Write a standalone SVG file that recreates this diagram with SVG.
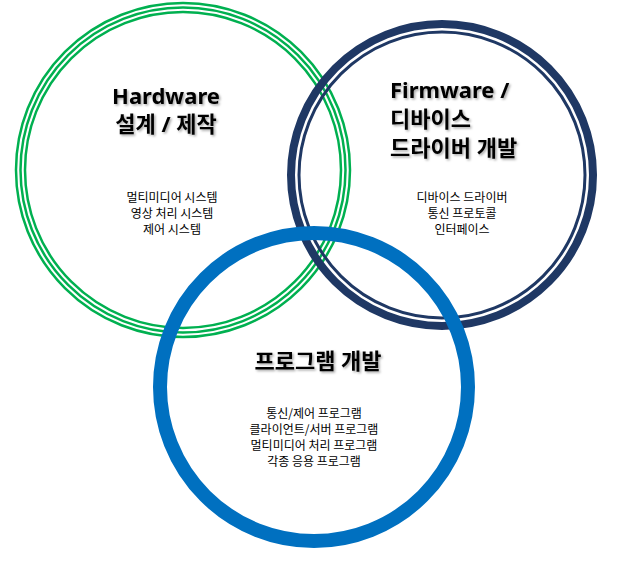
<svg xmlns="http://www.w3.org/2000/svg" width="619" height="566" viewBox="0 0 619 566">
<defs>
<filter id="sh" x="-10%" y="-10%" width="130%" height="140%"><feDropShadow dx="1.5" dy="1.5" stdDeviation="1" flood-color="#000" flood-opacity="0.35"/></filter>
<style>
.t{font-family:"Noto Sans","Noto Sans CJK KR",sans-serif;font-weight:bold;font-size:22px;fill:#000;text-anchor:middle;filter:url(#sh)}
.s{font-family:"Noto Sans CJK KR",sans-serif;font-size:12px;fill:#000;text-anchor:middle}
.g{fill:none;stroke:#00b050;stroke-width:2.5}
</style>
</defs>
<rect width="619" height="566" fill="#fff"/>
<g id="hardware">
<circle class="g" cx="183" cy="170" r="167"/>
<circle class="g" cx="183" cy="170" r="162.5"/>
<circle class="g" cx="183" cy="170" r="158"/>
<text class="t" x="166" y="104">Hardware</text>
<text class="t" x="166" y="132">설계 / 제작</text>
<text class="s" x="172" y="202">멀티미디어 시스템</text>
<text class="s" x="172" y="218">영상 처리 시스템</text>
<text class="s" x="172" y="234">제어 시스템</text>
</g>
<g id="firmware">
<circle cx="442" cy="175" r="151" fill="none" stroke="#1f3864" stroke-width="8"/>
<circle cx="442" cy="175" r="143" fill="none" stroke="#1f3864" stroke-width="3"/>
<text class="t" x="390" y="98" style="text-anchor:start">Firmware /</text>
<text class="t" x="390" y="127" style="text-anchor:start">디바이스</text>
<text class="t" x="390" y="156" style="text-anchor:start">드라이버 개발</text>
<text class="s" x="462" y="202">디바이스 드라이버</text>
<text class="s" x="462" y="218">통신 프로토콜</text>
<text class="s" x="462" y="234">인터페이스</text>
</g>
<g id="program">
<circle cx="314" cy="387" r="154" fill="none" stroke="#0070c0" stroke-width="14"/>
<text class="t" x="318" y="369">프로그램 개발</text>
<text class="s" x="314" y="418">통신/제어 프로그램</text>
<text class="s" x="314" y="434">클라이언트/서버 프로그램</text>
<text class="s" x="314" y="450">멀티미디어 처리 프로그램</text>
<text class="s" x="314" y="466">각종 응용 프로그램</text>
</g>
<g id="connectors"/>
</svg>
